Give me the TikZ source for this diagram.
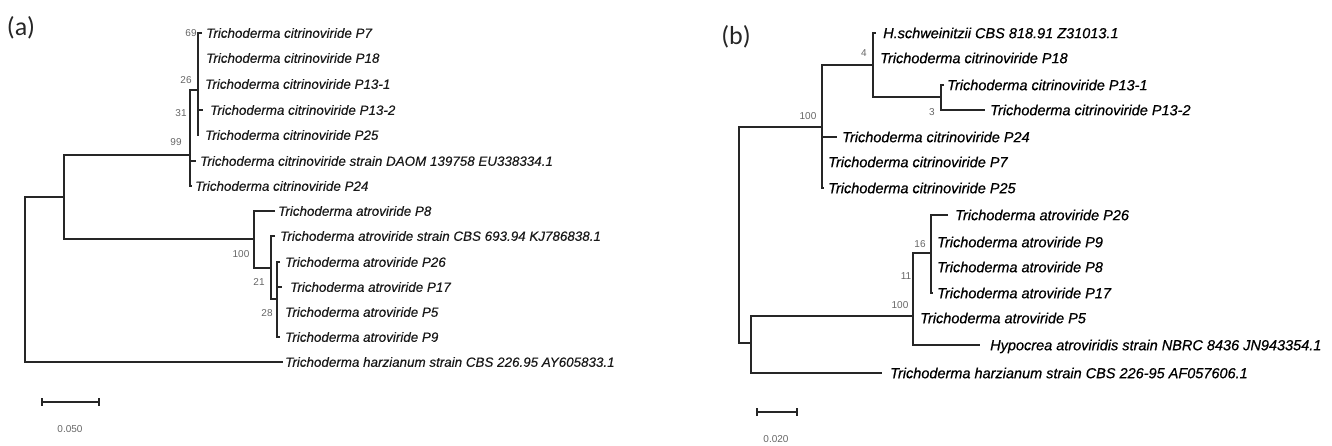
\documentclass[tikz,border=0pt]{standalone}
\usepackage{fontspec}
\setmainfont{Liberation Sans}
\newfontfamily\labA{Liberation Sans}[FakeBold=0.3]
\newfontfamily\labB{Liberation Sans}[FakeBold=0.6]
\newfontfamily\panfont{Carlito}
\begin{document}
\begin{tikzpicture}[x=1pt,y=-1pt,
  br/.style={line width=1.35pt, black!85},
  thk/.style={line width=2.8pt, black!85},
  la/.style={anchor=west, inner sep=0pt, font=\labA\itshape\fontsize{13.4}{14}\selectfont, text height=9.6pt, text depth=0pt, text=black!90},
  lb/.style={anchor=west, inner sep=0pt, font=\labB\itshape\fontsize{14.5}{15}\selectfont, text height=10.4pt, text depth=0pt, text=black},
  bs/.style={inner sep=0pt, font=\fontsize{10}{11}\selectfont, text=black!60},
  pan/.style={inner sep=0pt, font=\panfont\fontsize{26}{29}\selectfont, text=black!85}]
\useasboundingbox (0,0) rectangle (1332,445);

% ---------------- panel (a)
\node[pan] (pa) at (21,28) {(a)};
\coordinate (ra) at (25,280);
\coordinate (ia) at (64,197);
\coordinate (ca) at (190,155);
\coordinate (cb) at (198,90);
\coordinate (aa) at (254,239);
\coordinate (ab) at (271,268);
\coordinate (ac) at (277,299);

\coordinate (tP7) at (202,33);
\coordinate (tP132) at (203,110);
\coordinate (tP25) at (199,135);
\coordinate (tDAO) at (196,161);
\coordinate (tP24) at (192,186);
\coordinate (tP8) at (275,211);
\coordinate (tCBS) at (275,236);
\coordinate (tP26) at (280,262);
\coordinate (tP17) at (282,287);
\coordinate (tP9) at (280,337);
\coordinate (tHz) at (283,362);
\coordinate (thA1) at (190,125);
\coordinate (thB1) at (198,46);
\coordinate (thB2) at (198,58);

\node[la] (LP7) at (206,33) {Trichoderma citrinoviride P7};
\node[la] (LP18) at (206,58) {Trichoderma citrinoviride P18};
\node[la] (LP131) at (205,84) {Trichoderma citrinoviride P13-1};
\node[la] (LP132) at (210,110) {Trichoderma citrinoviride P13-2};
\node[la] (LP25) at (205,135) {Trichoderma citrinoviride P25};
\node[la] (LDAO) at (200,161) {Trichoderma citrinoviride strain DAOM 139758 EU338334.1};
\node[la] (LP24) at (195,186) {Trichoderma citrinoviride P24};
\node[la] (LP8) at (278,211) {Trichoderma atroviride P8};
\node[la] (LCBS) at (280,236) {Trichoderma atroviride strain CBS 693.94 KJ786838.1};
\node[la] (LP26) at (285,262) {Trichoderma atroviride P26};
\node[la] (LP17) at (290,287) {Trichoderma atroviride P17};
\node[la] (LP5) at (285,312) {Trichoderma atroviride P5};
\node[la] (LP9) at (285,337) {Trichoderma atroviride P9};
\node[la] (LHz) at (285,362) {Trichoderma harzianum strain CBS 226.95 AY605833.1};

\draw[br] (tP7) -| (cb) |- (tP25);
\draw[br] (cb |- tP132) -- (tP132);
\draw[br] (cb) -| (ca) |- (tP24);
\draw[br] (ca |- tDAO) -- (tDAO);
\draw[thk] (thA1) -- (ca);
\draw[thk] (thB1) -- (thB2);
\draw[br] (ca) -| (ia) |- (aa);
\draw[br] (ia) -| (ra) |- (tHz);
\draw[br] (tP8) -| (aa) |- (ab);
\draw[br] (tCBS) -| (ab) |- (ac);
\draw[br] (tP26) -| (ac) |- (tP9);
\draw[br] (ac |- tP17) -- (tP17);

\node[bs] (b69) at (191,33) {69};
\node[bs] (b26) at (186,80) {26};
\node[bs] (b31) at (181,113) {31};
\node[bs] (b99) at (176,142) {99};
\node[bs] (b100a) at (241,254) {100};
\node[bs] (b21) at (259,282) {21};
\node[bs] (b28) at (267,313) {28};

\coordinate (sa1) at (42,402);
\coordinate (sa2) at (99,402);
\draw[br] (sa1) -- (sa2);
\draw[br] ([yshift=4pt]sa1) -- ([yshift=-4pt]sa1);
\draw[br] ([yshift=4pt]sa2) -- ([yshift=-4pt]sa2);
\node[bs] (sla) at (70,429) {0.050};

% ---------------- panel (b)
\node[pan] (pb) at (736,37) {(b)};
\coordinate (rb) at (739,235);
\coordinate (fb) at (751,343);
\coordinate (gb) at (822,127);
\coordinate (hb) at (873,65);
\coordinate (ib) at (941,97);
\coordinate (jb) at (913,316);
\coordinate (kb) at (931,253);

\coordinate (tHs) at (876,33);
\coordinate (tP131b) at (944,85);
\coordinate (tP132b) at (985,110);
\coordinate (tP24b) at (837,137);
\coordinate (tP25b) at (824,188);
\coordinate (tP26b) at (948,215);
\coordinate (tP17b) at (933,293);
\coordinate (tHyb) at (980,345);
\coordinate (tHzb) at (882,373);
\coordinate (thJ) at (913,286);

\node[lb] (LHs) at (883,33) {H.schweinitzii CBS 818.91 Z31013.1};
\node[lb] (LP18b) at (880,58) {Trichoderma citrinoviride P18};
\node[lb] (LP131b) at (947,85) {Trichoderma citrinoviride P13-1};
\node[lb] (LP132b) at (990,110) {Trichoderma citrinoviride P13-2};
\node[lb] (LP24b) at (842,137) {Trichoderma citrinoviride P24};
\node[lb] (LP7b) at (828,162) {Trichoderma citrinoviride P7};
\node[lb] (LP25b) at (828,188) {Trichoderma citrinoviride P25};
\node[lb] (LP26b) at (955,215) {Trichoderma atroviride P26};
\node[lb] (LP9b) at (937,242) {Trichoderma atroviride P9};
\node[lb] (LP8b) at (937,267) {Trichoderma atroviride P8};
\node[lb] (LP17b) at (937,293) {Trichoderma atroviride P17};
\node[lb] (LP5b) at (920,318) {Trichoderma atroviride P5};
\node[lb] (LHyb) at (990,345) {Hypocrea atroviridis strain NBRC 8436 JN943354.1};
\node[lb] (LHzb) at (890,373) {Trichoderma harzianum strain CBS 226-95 AF057606.1};

\draw[br] (gb) -| (rb) |- (fb);
\draw[br] (jb) -| (fb) |- (tHzb);
\draw[br] (hb) -| (gb) |- (tP25b);
\draw[br] (gb |- tP24b) -- (tP24b);
\draw[br] (tHs) -| (hb) |- (ib);
\draw[br] (tP131b) -| (ib) |- (tP132b);
\draw[br] (kb) -| (jb) |- (tHyb);
\draw[br] (tP26b) -| (kb) |- (tP17b);
\draw[thk] (thJ) -- (jb);

\node[bs] (b4) at (864,53) {4};
\node[bs] (b3) at (932,112) {3};
\node[bs] (b100b) at (808,116) {100};
\node[bs] (b16) at (920,244) {16};
\node[bs] (b11) at (906,276) {11};
\node[bs] (b100c) at (900,305) {100};

\coordinate (sb1) at (757,412);
\coordinate (sb2) at (797,412);
\draw[br] (sb1) -- (sb2);
\draw[br] ([yshift=4pt]sb1) -- ([yshift=-4pt]sb1);
\draw[br] ([yshift=4pt]sb2) -- ([yshift=-4pt]sb2);
\node[bs] (slb) at (776,439) {0.020};
\end{tikzpicture}
\end{document}
